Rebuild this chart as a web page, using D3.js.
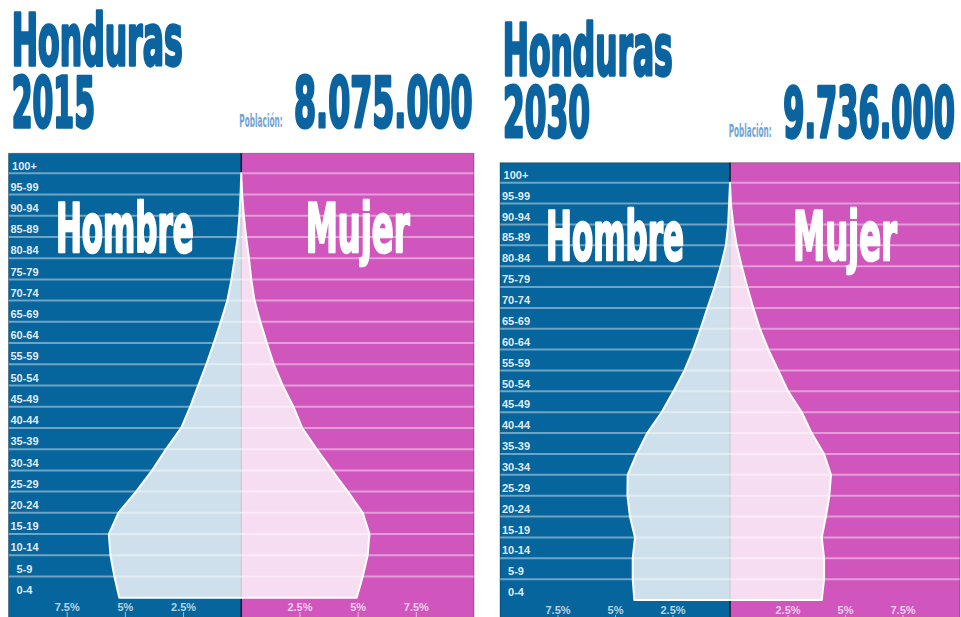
<!DOCTYPE html>
<html><head><meta charset="utf-8">
<script src="https://cdn.jsdelivr.net/npm/d3@7"></script>
<style>body{margin:0;background:#fff;overflow:hidden}svg{display:block}</style>
</head><body>
<svg id="c" width="961" height="617"></svg>
<script>
// ---- data ----
const ageGroups = ["0-4","5-9","10-14","15-19","20-24","25-29","30-34","35-39","40-44","45-49","50-54","55-59","60-64","65-69","70-74","75-79","80-84","85-89","90-94","95-99","100+"];
const male2015   = [5.24,5.45,5.62,5.69,5.28,4.52,3.83,3.23,2.58,2.19,1.85,1.50,1.18,0.88,0.60,0.42,0.28,0.15,0.08,0.03,0.0];
const female2015 = [4.96,5.22,5.43,5.51,5.22,4.58,3.90,3.24,2.62,2.24,1.78,1.40,1.10,0.82,0.57,0.43,0.33,0.21,0.11,0.04,0.0];
const male2030   = [4.16,4.23,4.23,4.13,4.35,4.46,4.45,4.06,3.60,2.97,2.46,1.98,1.60,1.28,0.98,0.67,0.40,0.18,0.08,0.04,0.0];
const female2030 = [3.99,4.09,4.09,3.99,4.17,4.32,4.39,4.09,3.55,3.12,2.53,2.10,1.67,1.30,1.01,0.75,0.51,0.29,0.14,0.04,0.0];
const countryName = "Honduras";
const years = ["2015","2030"];
const populations = ["8.075.000","9.736.000"];
const populationLabel = "Población:";
const maleLabel = "Hombre", femaleLabel = "Mujer";
const tickValues = [2.5, 5, 7.5];
const tickLabels = ["2.5%","5%","7.5%"];

// ---- layout ----
const layouts = [
  {left:8.5, right:474, top:153.3, yBottom:597.7, yTop:173.3,
   titleX:11.7, titleBase:65, titleW:171, yearX:11.7, yearBase:126.7, yearW:83.3,
   polX:239.3, polBase:126.7, polW:43.4, popX:294, popBase:126.7, popW:178.7, axisY:618},
  {left:500, right:960, top:162.7, yBottom:600, yTop:182.7,
   titleX:502.7, titleBase:75, titleW:170, yearX:503, yearBase:137.3, yearW:87,
   polX:728.7, polBase:136.7, polW:43, popX:783.3, popBase:137, popW:171.7, axisY:621}
];
const series = [
  {year:years[0], pop:populations[0], male:male2015, female:female2015},
  {year:years[1], pop:populations[1], male:male2030, female:female2030}
];

const BLUE = "#06659c", PINK = "#d056be", TITLE = "#0b64a0", POL = "#72a3d1";
const condensed = "'Liberation Sans Narrow','DejaVu Sans Condensed','Roboto Condensed','Liberation Sans',Arial,sans-serif";
const svg = d3.select("#c");

// text fitted to a width (by font size) and a cap height (by vertical scale)
function fitText(g, txt, X, B, W, capH, col, sw) {
  const t = g.append("text").attr("x", 0).attr("y", 0)
    .attr("font-family", condensed).attr("font-weight", "bold").attr("font-size", 100)
    .attr("fill", col).text(txt);
  const w = t.node().getComputedTextLength();
  const fs = 100 * W / w;
  const k = capH / (0.716 * fs);
  t.attr("font-size", fs).attr("transform", `translate(${X},${B}) scale(1,${k})`);
  if (sw) t.attr("stroke", col).attr("stroke-width", sw).attr("stroke-linejoin", "round");
  return t;
}

series.forEach((s, pi) => {
  const L = layouts[pi];
  const g = svg.append("g");
  const x = d3.scaleLinear().domain([-10, 10]).range([L.left, L.right]);
  const y = d3.scalePoint().domain(ageGroups).range([L.yBottom, L.yTop]);
  const cx = x(0);

  // header texts
  fitText(g, countryName, L.titleX, L.titleBase, L.titleW, 51, TITLE, 1.6);
  fitText(g, s.year, L.yearX, L.yearBase, L.yearW, 50, TITLE, 1.6);
  fitText(g, populationLabel, L.polX, L.polBase, L.polW, 12.4, POL, 0);
  fitText(g, s.pop, L.popX, L.popBase, L.popW, 50, TITLE, 1.6);

  // backgrounds
  const bottom = 640;
  g.append("rect").attr("x", L.left).attr("y", L.top).attr("width", cx - L.left).attr("height", bottom - L.top).attr("fill", BLUE);
  g.append("rect").attr("x", cx).attr("y", L.top).attr("width", L.right - cx).attr("height", bottom - L.top).attr("fill", PINK);
  g.append("line").attr("x1", cx).attr("x2", cx).attr("y1", L.top).attr("y2", bottom)
    .attr("stroke", "#1b1b2a").attr("stroke-width", 1.6);

  // population shape
  const pts = [];
  ageGroups.forEach((a, i) => pts.push([x(-s.male[i]), y(a)]));
  for (let i = ageGroups.length - 1; i >= 0; i--) pts.push([x(s.female[i]), y(ageGroups[i])]);
  const line = d3.line();
  g.append("path").attr("d", line(pts) + "Z").attr("fill", "#fff").attr("fill-opacity", 0.8);

  // gridlines
  g.selectAll(".grid").data(ageGroups.slice(1)).join("line")
    .attr("x1", L.left).attr("x2", L.right)
    .attr("y1", d => y(d)).attr("y2", d => y(d))
    .attr("stroke", "#fff").attr("stroke-opacity", 0.42).attr("stroke-width", 2);

  g.append("path").attr("d", line(pts) + "Z").attr("fill", "none")
    .attr("stroke", "#fff").attr("stroke-width", 2).attr("stroke-linejoin", "round");

  // age labels
  g.selectAll(".age").data(ageGroups).join("text")
    .attr("x", L.left + 16).attr("y", d => y(d) - 3.8)
    .attr("text-anchor", "middle")
    .attr("font-family", "'Liberation Sans',Arial,sans-serif").attr("font-weight", "bold")
    .attr("font-size", 11).attr("fill", "#fff").attr("fill-opacity", 0.9)
    .text(d => d);

  // sex labels
  const base = y("80-84") - 6.5;
  fitText(g, maleLabel, x(-5) - 69, base, 138, 48.4, "#fff", 1.4);
  fitText(g, femaleLabel, x(5) - 52, base, 104, 48.4, "#fff", 1.4);

  // axes
  const fmt = d => tickLabels[tickValues.indexOf(Math.abs(d))];
  const axL = d3.axisTop(x).tickValues(tickValues.map(v => -v)).tickFormat(fmt).tickSize(6).tickPadding(1);
  const axR = d3.axisTop(x).tickValues(tickValues).tickFormat(fmt).tickSize(6).tickPadding(1);
  [axL, axR].forEach(ax => {
    const a = g.append("g").attr("transform", `translate(0,${L.axisY})`).call(ax);
    a.select(".domain").remove();
    a.selectAll(".tick line").attr("stroke", "#fff").attr("stroke-opacity", 0.6);
    a.selectAll(".tick text").attr("fill", "#fff").attr("fill-opacity", 0.72)
      .attr("font-family", "'Liberation Sans',Arial,sans-serif").attr("font-weight", "bold").attr("font-size", 11);
  });

  // border
  g.append("rect").attr("x", L.left).attr("y", L.top).attr("width", L.right - L.left).attr("height", bottom - L.top)
    .attr("fill", "none").attr("stroke", "#000").attr("stroke-opacity", 0.3).attr("stroke-width", 1);
});
</script>
</body></html>
